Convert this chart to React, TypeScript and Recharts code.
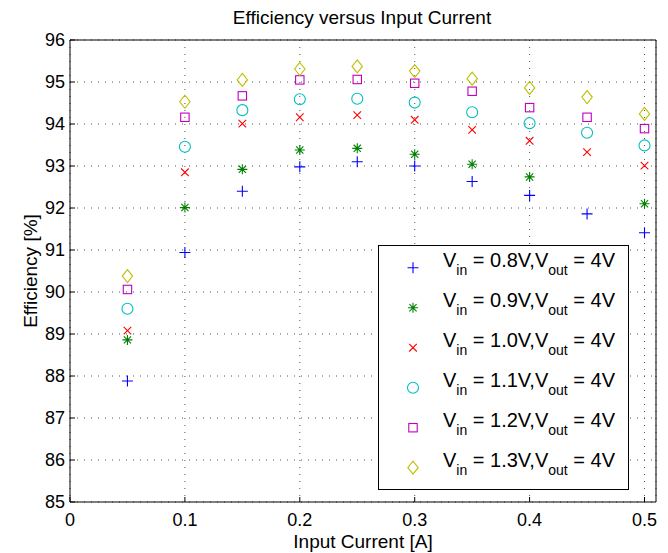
import { ScatterChart, Scatter, XAxis, YAxis, CartesianGrid, Legend, Label } from "recharts";

const CURRENT = [0.05, 0.1, 0.15, 0.2, 0.25, 0.3, 0.35, 0.4, 0.45, 0.5];
const EFF_08 = [87.88, 90.94, 92.4, 92.98, 93.1, 93.0, 92.63, 92.3, 91.86, 91.41];
const EFF_09 = [88.86, 92.01, 92.92, 93.38, 93.42, 93.28, 93.04, 92.74, null, 92.1];
const EFF_10 = [89.08, 92.85, 94.01, 94.16, 94.21, 94.1, 93.86, 93.6, 93.33, 93.01];
const EFF_11 = [89.6, 93.46, 94.33, 94.59, 94.6, 94.51, 94.28, 94.02, 93.79, 93.49];
const EFF_12 = [90.06, 94.16, 94.67, 95.05, 95.06, 94.97, 94.78, 94.39, 94.16, 93.89];
const EFF_13 = [90.38, 94.53, 95.05, 95.31, 95.37, 95.26, 95.08, 94.86, 94.64, 94.24];

const VIN = ["0.8", "0.9", "1.0", "1.1", "1.2", "1.3"];
const X_TICKS = [0, 0.1, 0.2, 0.3, 0.4, 0.5];
const Y_TICKS = [85, 86, 87, 88, 89, 90, 91, 92, 93, 94, 95, 96];

const FONT = "'Liberation Sans', Arial, Helvetica, sans-serif";

type Kind = "plus" | "star" | "x" | "circle" | "square" | "diamond";

const SERIES: { values: (number | null)[]; kind: Kind; color: string }[] = [
  { values: EFF_08, kind: "plus", color: "#0000ff" },
  { values: EFF_09, kind: "star", color: "#008000" },
  { values: EFF_10, kind: "x", color: "#ff0000" },
  { values: EFF_11, kind: "circle", color: "#00bfbf" },
  { values: EFF_12, kind: "square", color: "#bf00bf" },
  { values: EFF_13, kind: "diamond", color: "#bfbf00" },
];

function Marker({ kind, cx, cy, color }: { kind: Kind; cx: number; cy: number; color: string }) {
  const p = { stroke: color, fill: "none", strokeWidth: 1.1 };
  switch (kind) {
    case "plus":
      return <path {...p} d={`M${cx - 5.5},${cy}H${cx + 5.5}M${cx},${cy - 5.5}V${cy + 5.5}`} />;
    case "star":
      return (
        <path
          {...p}
          d={`M${cx - 5},${cy}H${cx + 5}M${cx},${cy - 5}V${cy + 5}M${cx - 3.6},${cy - 3.6}L${cx + 3.6},${cy + 3.6}M${cx - 3.6},${cy + 3.6}L${cx + 3.6},${cy - 3.6}`}
        />
      );
    case "x":
      return <path {...p} d={`M${cx - 3.8},${cy - 3.8}L${cx + 3.8},${cy + 3.8}M${cx - 3.8},${cy + 3.8}L${cx + 3.8},${cy - 3.8}`} />;
    case "circle":
      return <circle {...p} cx={cx} cy={cy} r={5.5} />;
    case "square":
      return <rect {...p} x={cx - 4.2} y={cy - 4.2} width={8.4} height={8.4} />;
    default:
      return <path {...p} d={`M${cx},${cy - 6.5}L${cx + 5.2},${cy}L${cx},${cy + 6.5}L${cx - 5.2},${cy}Z`} />;
  }
}

function LegendBox() {
  return (
    <svg width={251} height={245} style={{ display: "block", fontFamily: FONT }}>
      <rect x={0.5} y={0.5} width={250} height={244} fill="#fff" stroke="#000" />
      {SERIES.map((s, i) => (
        <g key={s.kind}>
          <Marker kind={s.kind} cx={35} cy={22.7 + 40 * i} color={s.color} />
          <text x={65} y={21.5 + 40 * i} fontSize={20} fill="#000" style={{ whiteSpace: "pre" }}>
            V
            <tspan fontSize={14} dy={8}>in</tspan>
            <tspan dy={-8}>{` = ${VIN[i]}V,V`}</tspan>
            <tspan fontSize={14} dy={8}>out</tspan>
            <tspan dy={-8}>{" = 4V"}</tspan>
          </text>
        </g>
      ))}
    </svg>
  );
}

export default function App() {
  return (
    <div style={{ position: "absolute", left: 0, top: 0, background: "#fff", fontFamily: FONT }}>
      <ScatterChart width={668} height={553} margin={{ top: 0, right: 0, bottom: 0, left: 0 }}>
        <CartesianGrid stroke="#555" strokeDasharray="1 6" />
        <XAxis
          type="number"
          dataKey="x"
          domain={[0, 0.51]}
          ticks={X_TICKS}
          height={51}
          stroke="#000"
          tickSize={-5}
          tickMargin={16}
          tick={{ fill: "#000", fontSize: 18, fontFamily: FONT }}
        >
          <Label
            content={() => (
              <text x={363} y={548} textAnchor="middle" fontSize={19} fill="#000" fontFamily={FONT}>
                Input Current [A]
              </text>
            )}
          />
        </XAxis>
        <XAxis
          xAxisId="top"
          orientation="top"
          type="number"
          dataKey="x"
          domain={[0, 0.51]}
          ticks={X_TICKS}
          height={40}
          stroke="#000"
          tickSize={-5}
          tick={false}
        >
          <Label
            content={() => (
              <text x={362} y={24} textAnchor="middle" fontSize={19} fill="#000" fontFamily={FONT}>
                Efficiency versus Input Current
              </text>
            )}
          />
        </XAxis>
        <YAxis
          type="number"
          dataKey="y"
          domain={[85, 96]}
          ticks={Y_TICKS}
          width={70}
          stroke="#000"
          tickSize={-5}
          tickMargin={10}
          tick={{ fill: "#000", fontSize: 18, fontFamily: FONT }}
        >
          <Label
            content={() => (
              <text
                x={37}
                y={271}
                transform="rotate(-90 37 271)"
                textAnchor="middle"
                fontSize={19}
                fill="#000"
                fontFamily={FONT}
              >
                Efficiency [%]
              </text>
            )}
          />
        </YAxis>
        <YAxis
          yAxisId="right"
          orientation="right"
          type="number"
          dataKey="y"
          domain={[85, 96]}
          ticks={Y_TICKS}
          width={12}
          stroke="#000"
          tickSize={-5}
          tick={false}
        />
        {SERIES.map((s) => (
          <Scatter
            key={s.kind}
            data={CURRENT.map((x, i) => ({ x, y: s.values[i] })).filter((d) => d.y !== null)}
            isAnimationActive={false}
            shape={(props: any) => <Marker kind={s.kind} cx={props.cx} cy={props.cy} color={s.color} />}
          />
        ))}
        <Legend
          layout="horizontal"
          verticalAlign="middle"
          align="center"
          wrapperStyle={{ left: 378, top: 245, width: 251, height: 245 }}
          content={() => <LegendBox />}
        />
      </ScatterChart>
    </div>
  );
}
